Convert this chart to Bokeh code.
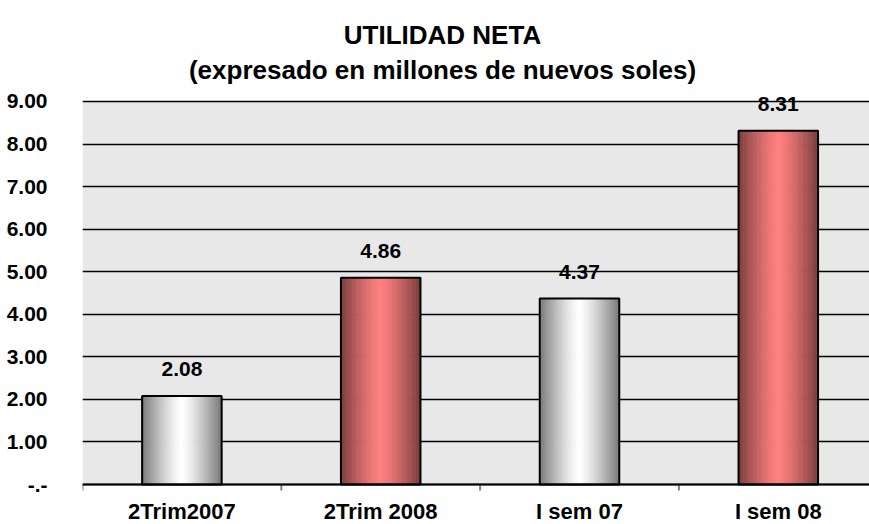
import numpy as np
from bokeh.plotting import figure
from bokeh.models import (ColumnDataSource, Range1d, FixedTicker, Label, LabelSet,
                          BoxAnnotation, Span)
from bokeh.core.properties import value
from bokeh.embed import file_html
from bokeh.resources import INLINE

# ---- data ----
categories = ["2Trim2007", "2Trim 2008", "I sem 07", "I sem 08"]
values = [2.08, 4.86, 4.37, 8.31]
value_labels = ["2.08", "4.86", "4.37", "8.31"]
bar_colors = ["#FFFFFF", "#FF8080", "#FFFFFF", "#FF8080"]
y_ticks = [0, 1, 2, 3, 4, 5, 6, 7, 8, 9]
y_tick_labels = ["-.-", "1.00", "2.00", "3.00", "4.00", "5.00", "6.00", "7.00", "8.00", "9.00"]
title_lines = ["UTILIDAD NETA", "(expresado en millones de nuevos soles)"]

FONT = "Liberation Sans"
BAR_W = 0.40
N_STRIPS = 48

# layout constants (pixels)
FIG_W, FIG_H = 869, 524
LEFT = 82            # frame left inside the figure
ZERO_Y = 484         # pixel row of value 0 inside the figure
PX_PER_UNIT = 42.56  # vertical scale
PX_PER_CAT = 198.8   # horizontal scale

centers = np.arange(len(categories)) + 0.5
boundaries = np.arange(len(categories) + 1)


def hex_to_rgb(h):
    h = h.lstrip("#")
    return np.array([int(h[i:i + 2], 16) for i in (0, 2, 4)], dtype=float)


# gradient strips (derived from the data)
xs, tops, ws, cols = [], [], [], []
for c, v, bc in zip(centers, values, bar_colors):
    base = hex_to_rgb(bc)
    for i in range(N_STRIPS):
        pos = (i + 0.5) / N_STRIPS
        peak = 0.5
        d = abs(pos - peak) / max(peak, 1 - peak)
        f = 1 - d ** 1.3
        rgb = base * (0.47 + 0.53 * f)
        cols.append("#%02x%02x%02x" % tuple(int(round(min(255, x))) for x in rgb))
        xs.append(c - BAR_W / 2 + pos * BAR_W)
        tops.append(v)
        ws.append(BAR_W / N_STRIPS * 1.35)

strip_src = ColumnDataSource(dict(x=xs, top=tops, w=ws, color=cols))
bar_src = ColumnDataSource(dict(x=centers, top=values, label=value_labels))
cat_src = ColumnDataSource(dict(x=centers, y=[0] * len(categories), label=categories))

y_lo = -(FIG_H - ZERO_Y) / PX_PER_UNIT
y_hi = ZERO_Y / PX_PER_UNIT
x_hi = (FIG_W - LEFT) / PX_PER_CAT

p = figure(width=FIG_W, height=FIG_H, output_backend="svg", toolbar_location=None,
           x_range=Range1d(0, x_hi), y_range=Range1d(y_lo, y_hi),
           x_axis_location=None,
           min_border_left=LEFT, min_border_right=0, min_border_top=0, min_border_bottom=0)
p.background_fill_color = "white"
p.border_fill_color = "white"
p.outline_line_color = None

# plot-area background (0 .. 9)
p.add_layout(BoxAnnotation(bottom=y_ticks[0], top=y_ticks[-1], fill_color="#E8E8E8",
                           fill_alpha=1.0, line_color=None, level="image"))

p.vbar(x="x", top="top", width="w", bottom=0, source=strip_src,
       fill_color="color", line_color=None)
p.vbar(x="x", top="top", width=BAR_W, bottom=0, source=bar_src,
       fill_color=None, line_color="black", line_width=2)

# value labels
p.add_layout(LabelSet(x="x", y="top", text="label", source=bar_src, y_offset=20,
                      text_align="center", text_baseline="alphabetic",
                      text_font=value(FONT), text_font_style="bold", text_font_size="21px",
                      text_color="black"))

# category axis (line at 0, boundary ticks, labels)
p.add_layout(Span(location=0, dimension="width", line_color="black", line_width=2))
tick_len = 6 / PX_PER_UNIT
p.segment(x0=boundaries, y0=[0] * len(boundaries), x1=boundaries,
          y1=[-tick_len] * len(boundaries), line_color="#808080", line_width=2)
p.add_layout(LabelSet(x="x", y="y", text="label", source=cat_src, y_offset=-34,
                      text_align="center", text_baseline="alphabetic",
                      text_font=value(FONT), text_font_style="bold", text_font_size="22px",
                      text_color="black"))

# y axis
ya = p.yaxis[0]
ya.ticker = FixedTicker(ticks=y_ticks, minor_ticks=[])
ya.major_label_overrides = {t: s for t, s in zip(y_ticks, y_tick_labels)}
ya.axis_line_color = None
ya.major_tick_line_color = None
ya.minor_tick_line_color = None
ya.major_label_standoff = 29
ya.major_label_text_font = FONT
ya.major_label_text_font_style = "bold"
ya.major_label_text_font_size = "21px"
ya.major_label_text_color = "black"

p.xgrid.visible = False
p.ygrid.ticker = FixedTicker(ticks=y_ticks)
p.ygrid.grid_line_color = "black"
p.ygrid.grid_line_width = 1.3

# titles
title_x = (442 - LEFT) / PX_PER_CAT
for txt, baseline_px in zip(title_lines, [34, 69]):
    p.add_layout(Label(x=title_x, y=(ZERO_Y - baseline_px) / PX_PER_UNIT, text=txt,
                       text_align="center", text_baseline="alphabetic",
                       text_font=FONT, text_font_style="bold", text_font_size="26px",
                       text_color="black"))

open("out.html", "w").write(file_html(p, INLINE))
